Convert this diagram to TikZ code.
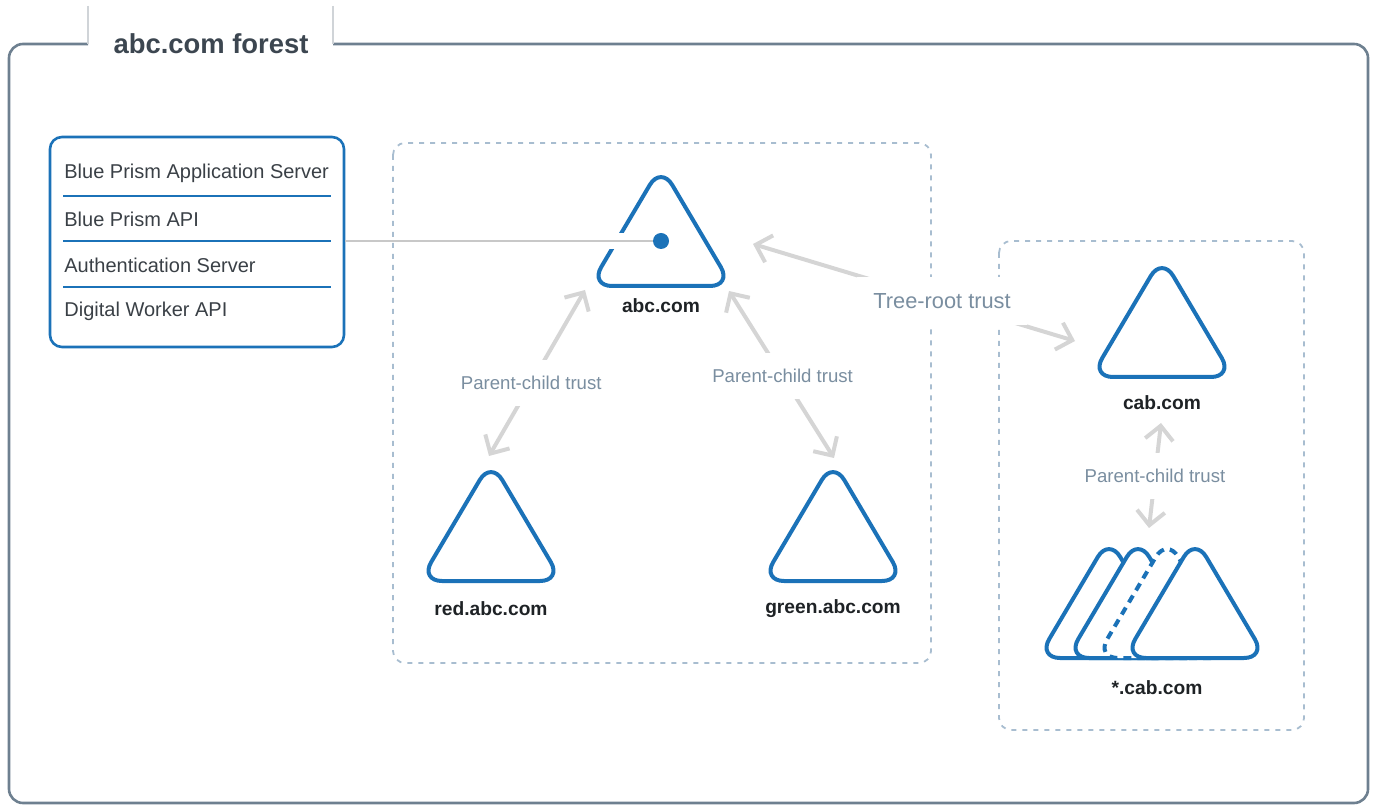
\documentclass[tikz,border=0pt]{standalone}
\usepackage{fontspec}
\setmainfont{Liberation Sans}
\usetikzlibrary{arrows.meta,positioning}

\definecolor{framegray}{RGB}{110,128,144}
\definecolor{tabgray}{RGB}{208,212,216}
\definecolor{titlegray}{RGB}{60,70,80}
\definecolor{prismblue}{RGB}{27,114,184}
\definecolor{boxdash}{RGB}{168,189,208}
\definecolor{trustgray}{RGB}{213,213,213}
\definecolor{trusttext}{RGB}{122,142,160}
\definecolor{rowtext}{RGB}{58,64,70}
\definecolor{domtext}{RGB}{30,34,37}

\tikzset{
  domtri/.pic={\draw[pic actions] (0,56) -- (71,56) -- (0,-64) -- (-71,56) -- cycle;}
}

\begin{document}
\begin{tikzpicture}[x=0.5pt, y=-0.5pt,
  frame/.style={draw=framegray, line width=1.3pt, rounded corners=7pt},
  tabline/.style={draw=tabgray, line width=0.6pt},
  title/.style={text=titlegray, font=\bfseries\fontsize{13.7}{16}\selectfont},
  realm/.style={draw=boxdash, line width=0.9pt, dash pattern=on 2.5pt off 3pt, rounded corners=6pt},
  tri/.style={draw=prismblue, line width=2pt, rounded corners=11pt},
  dom/.style={text=domtext, font=\bfseries\fontsize{9.6}{12}\selectfont},
  appbox/.style={draw=prismblue, line width=1.3pt, rounded corners=6pt, minimum width=147pt, minimum height=105pt},
  row/.style={text=rowtext, anchor=west, inner sep=0pt, font=\fontsize{10}{12}\selectfont},
  sep/.style={draw=prismblue, line width=0.6pt},
  link/.style={draw=trustgray!85!gray, line width=1pt},
  dot/.style={circle, fill=prismblue, inner sep=0pt, minimum size=8pt},
  trust/.style={draw=trustgray, line width=2pt, {Straight Barb[length=7pt,width=14pt]}-{Straight Barb[length=7pt,width=14pt]}},
  lbl/.style={fill=white, text=trusttext, inner sep=8pt, font=\fontsize{9.3}{11}\selectfont}]
\useasboundingbox (0,0) rectangle (1375,806);

% outer forest frame
\draw[frame] (88,44) -- (9,44) -- (9,803) -- (1368,803) -- (1368,44) -- (333,44);
\draw[tabline] (88,6) -- (88,44);
\draw[tabline] (333,6) -- (333,44);
\node[title] (forest) at (211,44) {abc.com forest};

% domain groups
\draw[realm] (393,143) rectangle (931,663);
\draw[realm] (999,241) rectangle (1304,730);

% trust connectors
\coordinate (abc-l) at (585,290);
\coordinate (red-t) at (489,456);
\coordinate (abc-r) at (729,291);
\coordinate (green-t) at (834,458);
\coordinate (abc-e) at (753,244);
\coordinate (cab-w) at (1075,341);
\coordinate (cab-b) at (1161,423);
\coordinate (star-t) at (1149,528);
\draw[trust] (abc-l) -- node[lbl, pos=.56] (pc1) {Parent-child trust} (red-t);
\draw[trust] (abc-r) -- node[lbl, pos=.51] (pc2) {Parent-child trust} (green-t);
\draw[trust] (abc-e) -- node[lbl, pos=.587, font=\fontsize{10.9}{13}\selectfont] (tr) {Tree-root trust} (cab-w);
\draw[trust] (cab-b) -- node[lbl, pos=.505] (pc3) {Parent-child trust} (star-t);

% domains
\pic[tri] (abc) at (661,230) {domtri};
\pic[tri] (red) at (491,525) {domtri};
\pic[tri] (green) at (833,525) {domtri};
\pic[tri] (cab) at (1162,321) {domtri};
\pic[tri, fill=white] (star4) at (1109,602) {domtri};
\pic[tri, fill=white] (star3) at (1138,602) {domtri};
\pic[tri, fill=white, dash pattern=on 4pt off 3pt] (star2) at (1167,602) {domtri};
\pic[tri, fill=white] (star1) at (1195,602) {domtri};

\node[dom] (abc-lbl) at (661,306) {abc.com};
\node[dom] (red-lbl) at (491,609) {red.abc.com};
\node[dom] (green-lbl) at (833,609) {green.abc.com};
\node[dom] (cab-lbl) at (1162,403) {cab.com};
\node[dom] (star-lbl) at (1157,688) {*.cab.com};

% application box
\node[appbox] (apps) at (197,242) {};
\node[row] (r1) at (64,173) {Blue Prism Application Server};
\node[row] (r2) at (64,219) {Blue Prism API};
\node[row] (r3) at (64,265) {Authentication Server};
\node[row] (r4) at (64,311) {Digital Worker API};
\draw[sep] (63,196) -- (331,196);
\draw[sep] (63,241) -- (331,241);
\draw[sep] (63,287) -- (331,287);

% link into abc.com
\node[dot] (abc-dot) at (661,241) {};
\fill[white] (608,233) rectangle (632,249);
\draw[link] (apps.east |- abc-dot) -- (abc-dot);
\end{tikzpicture}
\end{document}
